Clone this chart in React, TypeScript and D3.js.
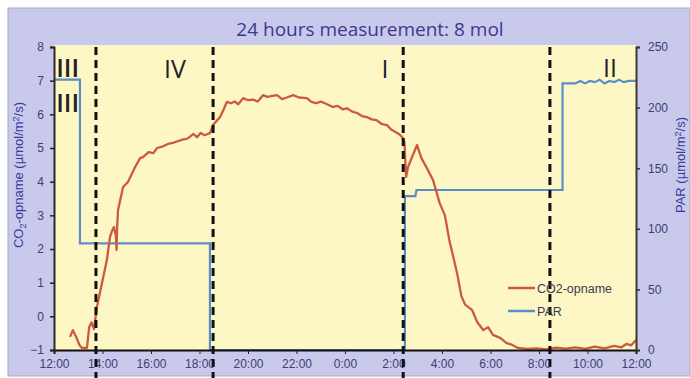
import React, { useRef, useEffect } from 'react';
import * as d3 from 'd3';

// hours after 12:00 (0..24)
const xTickHours = [0, 2, 4, 6, 8, 10, 12, 14, 16, 18, 20, 22, 24];
const xTickLabels = ['12:00', '14:00', '16:00', '18:00', '20:00', '22:00', '0:00', '2:00', '4:00', '6:00', '8:00', '10:00', '12:00'];
const leftTicks = [-1, 0, 1, 2, 3, 4, 5, 6, 7, 8];
const rightTicks = [0, 50, 100, 150, 200, 250];

const co2Hours = [
  0.66, 0.78, 0.93, 1.05, 1.15, 1.36, 1.45, 1.55, 1.65, 1.77, 1.98, 2.18, 2.31, 2.4, 2.47, 2.55, 2.58, 2.6, 2.64,
  2.85, 3.05, 3.34, 3.55, 3.67, 3.9, 4.1, 4.25, 4.5, 4.7, 4.9, 5.1, 5.3, 5.5, 5.6, 5.75, 5.9, 6.05, 6.2, 6.43,
  6.56, 6.7, 6.85, 7.0, 7.13, 7.3, 7.45, 7.6, 7.8, 8.0, 8.2, 8.4, 8.62, 8.8, 9.0, 9.2, 9.4, 9.6, 9.86, 10.1,
  10.3, 10.43, 10.6, 10.8, 11.0, 11.26, 11.5, 11.7, 11.9, 12.08, 12.3, 12.5, 12.7, 12.9, 13.1, 13.3, 13.5,
  13.73, 13.9, 14.1, 14.25, 14.35, 14.45, 14.52, 14.6, 14.97, 15.15, 15.35, 15.63, 15.9, 16.12, 16.3, 16.62,
  16.8, 16.95, 17.24, 17.45, 17.7, 17.9, 18.1, 18.4, 18.65, 18.9, 19.13, 19.5, 19.9, 20.3, 20.7, 21.1, 21.5,
  21.9, 22.3, 22.7, 23.1, 23.4, 23.6, 23.8, 24.0,
];
const co2Values = [
  -0.61, -0.41, -0.64, -0.85, -0.94, -0.94, -0.32, -0.18, -0.38, 0.28, 0.99, 1.67, 2.36, 2.55, 2.65, 2.4, 1.97, 2.6, 3.16,
  3.84, 3.99, 4.43, 4.7, 4.73, 4.88, 4.85, 5.0, 5.05, 5.12, 5.15, 5.2, 5.25, 5.28, 5.33, 5.42, 5.32, 5.45, 5.38, 5.44,
  5.68, 5.8, 5.92, 6.15, 6.37, 6.33, 6.38, 6.3, 6.48, 6.42, 6.44, 6.38, 6.57, 6.52, 6.55, 6.57, 6.45, 6.5, 6.57, 6.5,
  6.49, 6.48, 6.38, 6.33, 6.38, 6.3, 6.22, 6.25, 6.15, 6.18, 6.08, 6.04, 5.95, 5.92, 5.85, 5.83, 5.72,
  5.68, 5.55, 5.47, 5.4, 5.33, 5.18, 4.14, 4.44, 5.09, 4.7, 4.44, 4.05, 3.37, 3.0, 2.27, 1.29,
  0.6, 0.35, 0.19, -0.17, -0.41, -0.32, -0.55, -0.64, -0.79, -0.85, -0.94, -0.97, -0.95, -0.98, -0.93, -0.96, -0.92,
  -0.97, -0.9, -0.95, -0.88, -0.92, -0.82, -0.86, -0.7,
];

const parHours = [0, 1.07, 1.07, 6.43, 6.43, 14.47, 14.47, 14.9, 14.95, 20.97, 20.97, 21.5, 21.7, 21.9, 22.1, 22.3, 22.5, 22.7, 22.9, 23.1, 23.3, 23.5, 23.7, 24];
const parValues = [223, 223, 88, 88, 0, 0, 127, 127, 132, 132, 220, 220, 222, 220, 222, 221, 223, 220, 222, 221, 223, 221, 222, 222];

const phaseHours = [1.73, 6.56, 14.4, 20.45];
const phaseLabels = ['III', 'III', 'IV', 'I', 'II'];
const phaseLabelHours = [0.56, 0.56, 4.99, 13.65, 22.93];
const phaseLabelValues = [7.1, 6.07, 7.08, 7.08, 7.1];

export default function App() {
  const svgRef = useRef(null);

  useEffect(() => {
    const w = 690;
    const h = 378;
    const svg = d3.select(svgRef.current);
    svg.selectAll('*').remove();

    const x = d3.scaleLinear().domain([0, 24]).range([54, 636]);
    const yL = d3.scaleLinear().domain([-1, 8]).range([350, 47]);
    const yR = d3.scaleLinear().domain([0, 250]).range([350, 47]);

    //background
    svg.append('rect').attr('width', w).attr('height', h).attr('fill', '#ffffff');
    svg.append('rect').attr('x', 8).attr('y', 8).attr('width', w - 8).attr('height', h - 10)
      .attr('fill', '#c9c9ec').attr('stroke', '#a9a9bf').attr('stroke-width', 1);
    svg.append('rect').attr('x', x(0)).attr('y', 45).attr('width', x(24) - x(0)).attr('height', yL(-1) - 45)
      .attr('fill', '#fdf7c6');

    //title
    svg.append('text').attr('x', 370).attr('y', 36).attr('text-anchor', 'middle')
      .style('font-family', 'Open Sans').style('font-size', '19px').attr('fill', '#3a3a8e')
      .text('24 hours measurement: 8 mol');

    //lines
    const co2Line = d3.line<number>().x((d, i) => x(co2Hours[i])).y((d) => yL(d));
    const parLine = d3.line<number>().x((d, i) => x(parHours[i])).y((d) => yR(d));
    svg.append('path').attr('d', parLine(parValues)).attr('fill', 'none')
      .attr('stroke', '#5a8fc6').attr('stroke-width', 2.2);
    svg.append('path').attr('d', co2Line(co2Values)).attr('fill', 'none')
      .attr('stroke', '#cc5a3e').attr('stroke-width', 2.3).attr('stroke-linejoin', 'round');

    //axes
    const axisFont = (g) => g.selectAll('text').style('font-family', 'Liberation Sans').style('font-size', '12px').attr('fill', '#3e3e72');
    const gx = svg.append('g').attr('transform', `translate(0,${yL(-1)})`)
      .call(d3.axisBottom(x).tickValues(xTickHours).tickFormat((d, i) => xTickLabels[i]).tickSizeOuter(0).tickSize(4).tickPadding(5));
    gx.select('.domain').attr('stroke', '#111').attr('stroke-width', 2);
    gx.selectAll('line').attr('stroke', '#222');
    axisFont(gx);

    const gl = svg.append('g').attr('transform', `translate(${x(0)},0)`)
      .call(d3.axisLeft(yL).tickValues(leftTicks).tickFormat(d3.format('d')).tickSizeOuter(0).tickSize(4).tickPadding(6));
    gl.select('.domain').attr('stroke', '#2a2a2a').attr('stroke-width', 2);
    gl.selectAll('line').attr('stroke', '#222').attr('stroke-width', 1.5);
    axisFont(gl);

    const gr = svg.append('g').attr('transform', `translate(${x(24)},0)`)
      .call(d3.axisRight(yR).tickValues(rightTicks).tickFormat(d3.format('d')).tickSizeOuter(0).tickSize(4).tickPadding(8));
    gr.select('.domain').attr('stroke', '#3a3a30').attr('stroke-width', 2);
    gr.selectAll('line').attr('stroke', '#333').attr('stroke-width', 1.5);
    axisFont(gr);

    //axis titles
    const lt = svg.append('text').attr('transform', `translate(23,${175}) rotate(-90)`).attr('text-anchor', 'middle')
      .style('font-family', 'Liberation Sans').style('font-size', '13px').attr('fill', '#3a3aa0');
    lt.append('tspan').text('CO');
    lt.append('tspan').attr('dy', 3).style('font-size', '9px').text('2');
    lt.append('tspan').attr('dy', -3).text('-opname (µmol/m');
    lt.append('tspan').attr('dy', -4).style('font-size', '9px').text('2');
    lt.append('tspan').attr('dy', 4).text('/s)');

    const rt = svg.append('text').attr('transform', `translate(685,${165}) rotate(-90)`).attr('text-anchor', 'middle')
      .style('font-family', 'Liberation Sans').style('font-size', '13px').attr('fill', '#3a3aa0');
    rt.append('tspan').text('PAR (µmol/m');
    rt.append('tspan').attr('dy', -4).style('font-size', '9px').text('2');
    rt.append('tspan').attr('dy', 4).text('/s)');

    //phase boundaries
    svg.selectAll('.phase').data(phaseHours).join('line').attr('class', 'phase')
      .attr('x1', (d) => x(d)).attr('x2', (d) => x(d)).attr('y1', 47).attr('y2', h)
      .attr('stroke', '#111').attr('stroke-width', 3).attr('stroke-dasharray', '8,5');

    svg.selectAll('.plabel').data(phaseLabels).join('text').attr('class', 'plabel')
      .attr('x', (d, i) => x(phaseLabelHours[i])).attr('y', (d, i) => yL(phaseLabelValues[i]))
      .attr('text-anchor', 'middle').style('font-family', 'Open Sans').style('font-size', '25px')
      .style('font-weight', (d) => (d === 'III' ? 600 : 400))
      .attr('fill', '#222').text((d) => d);

    //legend
    const legend = svg.append('g').attr('transform', 'translate(508,288)');
    const items = [{ name: 'CO2-opname', color: '#cc5a3e' }, { name: 'PAR', color: '#5a8fc6' }];
    items.forEach((it, i) => {
      legend.append('line').attr('x1', 0).attr('x2', 27).attr('y1', i * 23).attr('y2', i * 23)
        .attr('stroke', it.color).attr('stroke-width', 2.5);
      legend.append('text').attr('x', 29).attr('y', i * 23 + 4.5)
        .style('font-family', 'Liberation Sans').style('font-size', '12.5px').attr('fill', '#3a3a55').text(it.name);
    });
  }, []);

  return (
    <svg ref={svgRef} width={690} height={378} style={{ position: 'absolute', left: 0, top: 0, display: 'block' }}></svg>
  );
}
